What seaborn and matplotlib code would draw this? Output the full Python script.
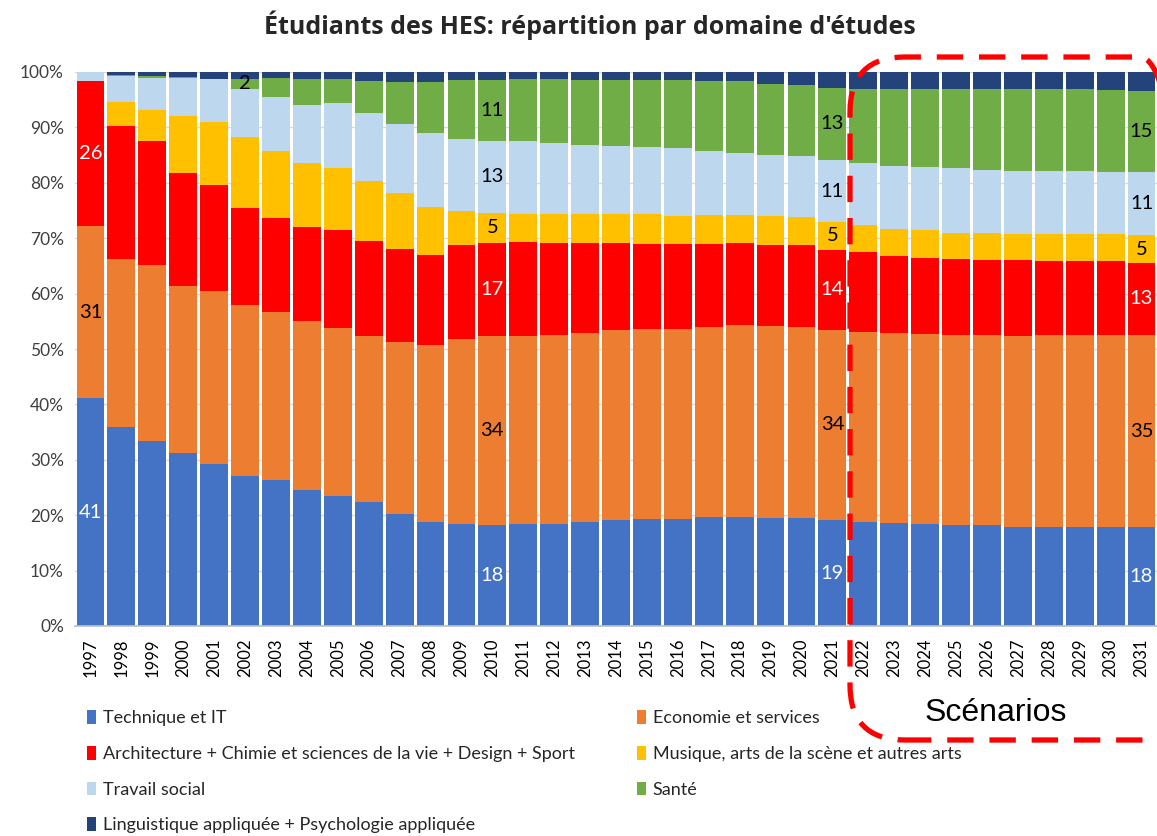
import numpy as np
import pandas as pd
import seaborn as sns
import matplotlib.pyplot as plt
from matplotlib.patches import FancyBboxPatch, Patch

years = [str(y) for y in range(1997, 2032)]

technique = [41.1, 36.0, 33.4, 31.3, 29.2, 27.1, 26.3, 24.6, 23.5, 22.4, 20.2, 18.7, 18.4, 18.2,
             18.4, 18.4, 18.7, 19.1, 19.4, 19.4, 19.6, 19.6, 19.5, 19.5, 19.1,
             18.7, 18.6, 18.4, 18.2, 18.2, 17.9, 17.9, 17.9, 17.8, 17.8]
economie = [31.1, 30.3, 31.7, 30.1, 31.2, 30.9, 30.4, 30.4, 30.3, 29.9, 31.0, 32.1, 33.4, 34.2,
            34.0, 34.1, 34.2, 34.3, 34.2, 34.3, 34.3, 34.7, 34.6, 34.4, 34.4,
            34.3, 34.3, 34.3, 34.3, 34.3, 34.5, 34.6, 34.6, 34.7, 34.7]
architecture = [26.2, 24.0, 22.5, 20.4, 19.2, 17.4, 17.0, 17.0, 17.6, 17.2, 16.9, 16.2, 16.9, 16.8,
                16.9, 16.7, 16.3, 15.8, 15.4, 15.3, 15.1, 14.9, 14.6, 14.8, 14.4,
                14.5, 13.8, 13.7, 13.8, 13.6, 13.6, 13.4, 13.3, 13.3, 13.1]
musique = [0.0, 4.3, 5.5, 10.3, 11.3, 12.9, 12.1, 11.5, 11.2, 10.8, 10.1, 8.6, 6.3, 5.4,
           5.1, 5.2, 5.1, 5.2, 5.3, 5.0, 5.2, 5.0, 5.3, 5.1, 5.0,
           4.8, 5.0, 5.0, 4.7, 4.9, 4.8, 4.9, 4.9, 4.9, 4.9]
travail_social = [1.6, 4.8, 5.9, 6.9, 7.9, 8.7, 9.7, 10.5, 11.8, 12.3, 12.5, 13.3, 12.9, 13.0,
                  13.2, 12.8, 12.6, 12.3, 12.1, 12.2, 11.6, 11.2, 11.0, 11.0, 11.2,
                  11.3, 11.3, 11.4, 11.6, 11.4, 11.4, 11.4, 11.4, 11.3, 11.4]
sante = [0.0, 0.2, 0.3, 0.1, 0.0, 1.8, 3.5, 4.8, 4.4, 5.7, 7.5, 9.3, 10.6, 10.9,
         11.2, 11.6, 11.6, 11.8, 12.1, 12.3, 12.6, 13.0, 12.9, 12.8, 13.1,
         13.4, 13.9, 14.1, 14.3, 14.5, 14.7, 14.7, 14.8, 14.8, 14.7]
linguistique = [0.0, 0.5, 0.7, 0.9, 1.2, 1.2, 1.0, 1.2, 1.2, 1.7, 1.8, 1.8, 1.5, 1.5,
                1.2, 1.2, 1.5, 1.5, 1.5, 1.5, 1.6, 1.6, 2.1, 2.4, 2.8,
                3.0, 3.1, 3.1, 3.1, 3.1, 3.1, 3.1, 3.1, 3.2, 3.4]

domains = ['Technique et IT', 'Economie et services',
           'Architecture + Chimie et sciences de la vie + Design + Sport',
           'Musique, arts de la scène et autres arts', 'Travail social', 'Santé',
           'Linguistique appliquée + Psychologie appliquée']
colors = ['#4472C4', '#ED7D31', '#FF0000', '#FFC000', '#BDD7EE', '#70AD47', '#24437A']
label_colors = ['white', 'black', 'white', 'black', 'black', 'black', 'white']

# which segments carry a value label
labelled = {'1997': [0, 1, 2], '2002': [5], '2010': [0, 1, 2, 3, 4, 5],
            '2021': [0, 1, 2, 3, 4, 5], '2031': [0, 1, 2, 3, 4, 5]}


def main():
    df = pd.DataFrame(
        np.array([technique, economie, architecture, musique, travail_social, sante, linguistique]).T,
        index=years, columns=domains)
    df = df.div(df.sum(axis=1), axis=0) * 100
    cum = df.cumsum(axis=1)

    sns.set_theme(style='white')
    plt.rcParams['font.family'] = ['Lato', 'DejaVu Sans']

    W, H = 1157, 836
    fig = plt.figure(figsize=(W / 100, H / 100), dpi=100)
    ax = fig.add_axes([75 / W, 210 / H, (W - 75) / W, 554 / H])

    # overlay cumulative bars from the top category down
    for i in range(len(domains) - 1, -1, -1):
        sns.barplot(x=years, y=cum.iloc[:, i].values, color=colors[i], saturation=1,
                    width=0.9, linewidth=0, errorbar=None, ax=ax)

    for year, idx in labelled.items():
        pos = years.index(year)
        for i in idx:
            val = df.loc[year].iloc[i]
            top = cum.loc[year].iloc[i]
            ax.text(pos, top - val / 2, f'{round(val)}', ha='center', va='center',
                    fontsize=14.5, color=label_colors[i])

    ax.set_xlim(-0.5, len(years) - 0.5)
    ax.set_ylim(0, 100)
    ax.set_yticks(range(0, 101, 10))
    ax.set_yticklabels([f'{v}%' for v in range(0, 101, 10)], fontsize=12.5, color='#404040')
    ax.tick_params(axis='x', rotation=90, labelsize=12, pad=3, labelcolor='black')
    ax.tick_params(axis='y', pad=2)
    ax.set_xlabel('')
    ax.set_ylabel('')
    ax.yaxis.grid(True, color='#D9D9D9', lw=1)
    ax.set_axisbelow(True)
    for s in ['top', 'right', 'left']:
        ax.spines[s].set_visible(False)
    ax.spines['bottom'].set_color('#BFBFBF')

    fig.text(590 / W, 1 - 25 / H, "Étudiants des HES: répartition par domaine d'études",
             ha='center', va='center', fontsize=18, fontweight='bold',
             family=['Open Sans', 'DejaVu Sans'])

    handles = [Patch(facecolor=c, edgecolor='none') for c in colors]
    left = [0, 2, 4, 6]
    right = [1, 3, 5]
    for idx, x0 in [(left, 80), (right, 630)]:
        leg = fig.legend([handles[i] for i in idx], [domains[i] for i in idx],
                         loc='upper left', bbox_to_anchor=(x0 / W, 1 - 703 / H),
                         frameon=False, fontsize=13, handlelength=0.5, handleheight=0.8,
                         handletextpad=0.35, labelspacing=1.08, borderaxespad=0)
        for t in leg.get_texts():
            t.set_color('#262626')

    box = FancyBboxPatch((850, H - 740), 345, 683,
                         boxstyle='round,pad=0,rounding_size=55',
                         transform=None, fill=False, edgecolor='#FF0000', lw=3.8,
                         linestyle=(0, (5, 3)), clip_on=False, zorder=5)
    fig.add_artist(box)
    fig.text(996 / W, 1 - 713 / H, 'Scénarios', ha='center', va='center', fontsize=23,
             family=['Liberation Sans', 'DejaVu Sans'], color='black')

    fig.savefig('out.png', dpi=100)


if __name__ == '__main__':
    main()
